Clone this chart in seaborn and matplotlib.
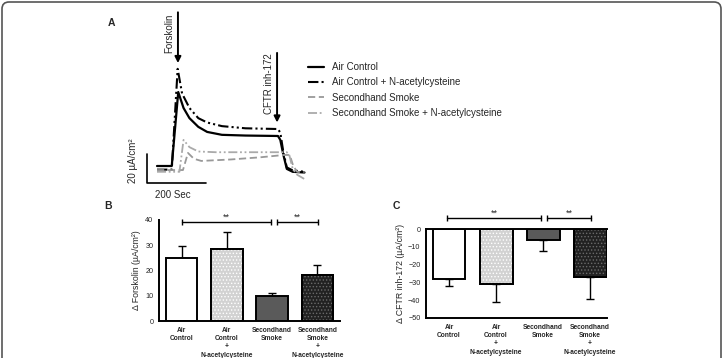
import numpy as np
import pandas as pd
import matplotlib
matplotlib.use("Agg")
import matplotlib.pyplot as plt
from matplotlib.patches import FancyBboxPatch, Rectangle
import seaborn as sns

# ---- data ----
# panel A: representative Isc traces (time in s, current in uA/cm2)
air_time = [0, 50, 72, 90, 110, 140, 170, 220, 300, 410, 418, 428, 440, 460, 500]
air_current = [0, 0, 51, 40, 33, 27, 23.5, 21.5, 21, 20.7, 18, 8, -2, -4, -4.5]
air_nac_time = [0, 50, 70, 85, 110, 140, 170, 220, 300, 410, 418, 428, 440, 460, 500]
air_nac_current = [-2.5, -2.5, 67, 50, 40, 33, 30, 27.5, 26, 25.5, 23, 10, -1, -3, -4]
shs_time = [0, 88, 105, 125, 150, 250, 350, 430, 450, 462, 475, 500]
shs_current = [-2.8, -2.8, 9, 5, 3.5, 4.5, 6, 7.6, 7.6, 0, -4, -4.5]
shs_nac_time = [0, 76, 90, 110, 140, 200, 300, 440, 448, 460, 475, 500]
shs_nac_current = [-4, -4, 18, 13, 10, 9.5, 9.5, 9.5, 8, -2, -6, -9]

trace_labels = ["Air Control", "Air Control + N-acetylcysteine",
                "Secondhand Smoke", "Secondhand Smoke + N-acetylcysteine"]

# panels B and C
groups = ["Air\nControl", "Air\nControl\n+\nN-acetylcysteine",
          "Secondhand\nSmoke", "Secondhand\nSmoke\n+\nN-acetylcysteine"]
forskolin_mean = [25.0, 28.7, 9.9, 18.4]
forskolin_err = [4.6, 6.4, 1.3, 3.8]
cftr_mean = [-28.2, -30.8, -6.2, -26.8]
cftr_err = [4.0, 10.3, 6.2, 12.5]

# ---- style ----
sns.set_style("white")
plt.rcParams['font.family'] = ['Liberation Sans', 'DejaVu Sans']
plt.rcParams['hatch.linewidth'] = 0.6

W, H = 724, 358
fig = plt.figure(figsize=(W / 100, H / 100), dpi=100)


def px_axes(left, top, right, bottom):
    return fig.add_axes([left / W, 1 - bottom / H, (right - left) / W, (bottom - top) / H])


# frame round the figure
frame = FancyBboxPatch((0.02, -0.2), 7.19, 3.76, boxstyle="round,pad=0,rounding_size=0.07",
                       transform=fig.dpi_scale_trans, facecolor='none', edgecolor='#555555', lw=1.2)
fig.patches.append(frame)

# ---- panel A ----
axA = px_axes(142.25, 6.5, 310.4, 195)
dashdotdot = (0, (5, 1.5, 1, 1.5, 1, 1.5))
sns.lineplot(x=air_time, y=air_current, ax=axA, color='black', lw=1.6, label=trace_labels[0])
sns.lineplot(x=air_nac_time, y=air_nac_current, ax=axA, color='black', lw=1.5,
             linestyle=dashdotdot, label=trace_labels[1])
sns.lineplot(x=shs_time, y=shs_current, ax=axA, color='#999999', lw=1.3,
             linestyle=(0, (4, 2)), label=trace_labels[2])
sns.lineplot(x=shs_nac_time, y=shs_nac_current, ax=axA, color='#aaaaaa', lw=1.3,
             linestyle=dashdotdot, label=trace_labels[3])
axA.set_xlim(-50, 520)
axA.set_ylim(-20, 110)
axA.axis('off')
handles, labels = axA.get_legend_handles_labels()
axA.get_legend().remove()
fig.legend(handles, labels, loc='upper left', bbox_to_anchor=(308 / W, 1 - 62 / H),
           frameon=False, fontsize=7, handlelength=1.6, handletextpad=0.9,
           labelspacing=0.55, borderpad=0, borderaxespad=0)

# arrows
arrow = dict(arrowstyle='-|>', lw=1.4, color='black', mutation_scale=9, shrinkA=0, shrinkB=0)
axA.annotate('', xy=(71, 71), xytext=(71, 106), arrowprops=arrow)
axA.annotate('', xy=(407, 30), xytext=(407, 78), arrowprops=arrow)
axA.text(42, 91.5, 'Forskolin', rotation=90, ha='center', va='center', fontsize=7)
axA.text(380, 56.5, 'CFTR inh-172', rotation=90, ha='center', va='center', fontsize=7)

# scale bar
axA.plot([-34, -34, 166], [8.3, -11.7, -11.7], color='black', lw=1.2, clip_on=False)
axA.text(-81, 3.4, '20 µA/cm²', rotation=90, ha='center', va='center', fontsize=7)
axA.text(54, -20, '200 Sec', ha='center', va='center', fontsize=7)

for lab, x, y in [('A', 111, 23), ('B', 108, 206), ('C', 396, 206)]:
    fig.text(x / W, 1 - y / H, lab, fontsize=7.5, fontweight='bold', ha='center', va='center')

# ---- bar panels ----
bar_colors = ['white', '#d2d2d2', '#5a5a5a', '#222222']
hatch_colors = [None, 'white', None, '#6a6a6a']


def bar_panel(ax, means, errs, upward):
    sns.barplot(x=groups, y=means, hue=groups, palette=bar_colors, legend=False,
                edgecolor='black', linewidth=1.4, width=0.7, ax=ax, zorder=2)
    for p, hc in zip(ax.patches, hatch_colors):
        if hc:
            ax.add_patch(Rectangle(p.get_xy(), p.get_width(), p.get_height(), facecolor='none',
                                   edgecolor=hc, hatch='.....', lw=0, zorder=2.1))
            ax.add_patch(Rectangle(p.get_xy(), p.get_width(), p.get_height(), facecolor='none',
                                   edgecolor='black', lw=1.4, zorder=2.2))
    zeros = np.zeros(len(errs))
    yerr = [zeros, errs] if upward else [errs, zeros]
    ax.errorbar(x=np.arange(len(means)), y=means, yerr=yerr, fmt='none', ecolor='black',
                elinewidth=1, capsize=3, capthick=1, zorder=1)
    ax.spines['right'].set_visible(False)
    for s in ['left', 'bottom', 'top']:
        ax.spines[s].set_linewidth(1.4)
        ax.spines[s].set_color('black')
    ax.tick_params(axis='y', direction='out', length=3, width=1, labelsize=5.2, pad=1)
    ax.tick_params(axis='x', length=0, labelsize=4.8, pad=4)
    for t in ax.get_xticklabels():
        t.set_fontweight('bold')
        t.set_linespacing(1.28)
        t.set_va('top')
    ax.set_xlabel('')


def sig(ax, x0, x1, y, ty):
    ax.plot([x0, x1], [y, y], color='black', lw=1, marker='|', markersize=5, clip_on=False)
    ax.text((x0 + x1) / 2, ty, '**', ha='center', va='center', fontsize=6.5)


axB = px_axes(159, 220, 340, 321)
bar_panel(axB, forskolin_mean, forskolin_err, True)
axB.spines['top'].set_visible(False)
axB.set_xlim(-0.5, 3.5)
axB.set_ylim(0, 40)
axB.set_yticks([0, 10, 20, 30, 40])
axB.set_ylabel('Δ Forskolin (µA/cm²)', fontsize=6.3, labelpad=3)
sig(axB, 0, 1.98, 39.3, 41)
sig(axB, 2.1, 3.02, 39.3, 41)

axC = px_axes(426, 229, 607, 318)
bar_panel(axC, cftr_mean, cftr_err, False)
axC.set_xlim(-0.49, 3.36)
axC.set_ylim(-50, 0)
axC.set_yticks([0, -10, -20, -30, -40, -50])
axC.set_ylabel('Δ CFTR inh-172 (µA/cm²)', fontsize=6.3, labelpad=2)
sig(axC, -0.04, 1.96, 6.2, 9)
sig(axC, 2.09, 3.02, 6.2, 9)

fig.savefig('out.png', dpi=100)
